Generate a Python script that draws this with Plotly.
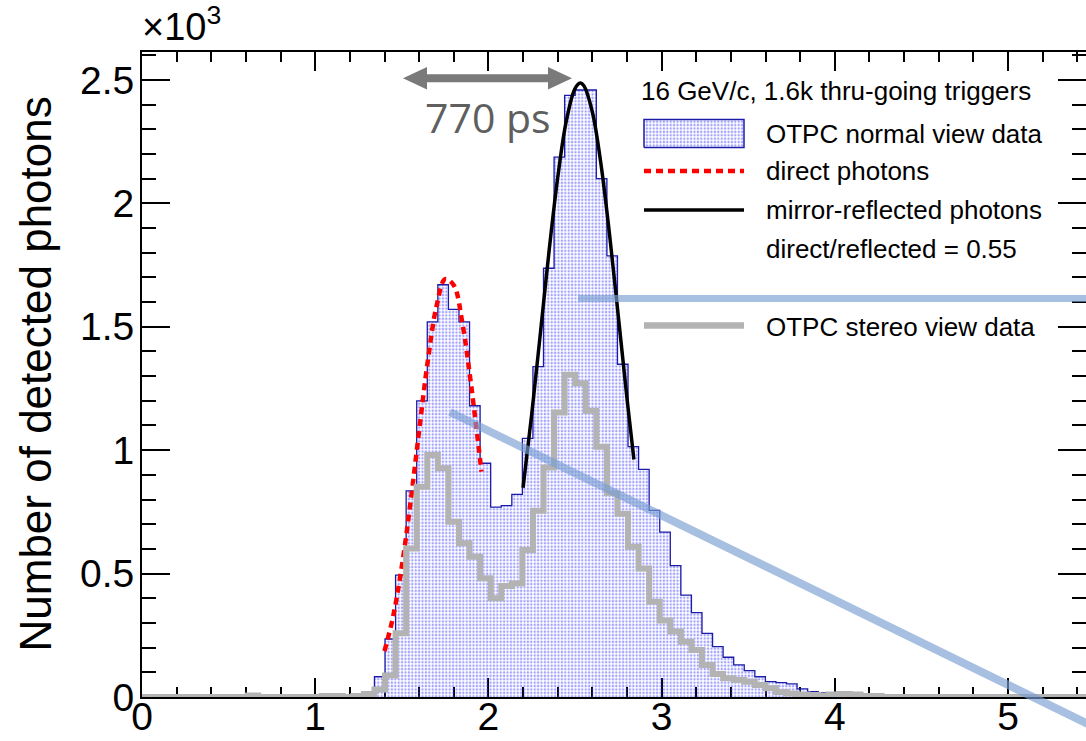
import plotly.graph_objects as go

# ---------------- data ----------------
bin_width = 0.061          # histogram bin width (x units)
n_bins = 90

normal_first_bin = 21
normal_view_counts = [0.016, 0.082, 0.235, 0.494, 0.835, 1.20, 1.52, 1.67, 1.57, 1.52,
                      1.18, 0.947, 0.769, 0.775, 0.821, 1.048, 1.338, 1.737, 2.187, 2.437,
                      2.459, 2.459, 2.10, 1.787, 1.348, 1.014, 0.922, 0.756, 0.668, 0.532,
                      0.413, 0.342, 0.258, 0.204, 0.161, 0.130, 0.107, 0.082, 0.062, 0.058,
                      0.053, 0.033, 0.022, 0.018, 0.010, 0.006, 0.004, 0.003]

stereo_view_counts = [0, 0, 0, 0, 0, 0, 0, 0, 0, 0,
                      0.006, 0, 0, 0, 0, 0, 0, 0.004, 0.004, 0,
                      0.004, 0.012, 0.03, 0.087, 0.258, 0.602, 0.852, 0.98, 0.927, 0.71,
                      0.623, 0.568, 0.481, 0.40, 0.45, 0.46, 0.596, 0.755, 0.93, 1.153,
                      1.305, 1.271, 1.16, 1.014, 0.825, 0.742, 0.609, 0.521, 0.386, 0.31,
                      0.265, 0.224, 0.19, 0.13, 0.093, 0.076, 0.069, 0.062, 0.049, 0.035,
                      0.02, 0.014, 0.01, 0.008, 0.006, 0.01, 0.012, 0.01, 0.004, 0.004,
                      0, 0, 0, 0, 0, 0, 0, 0, 0, 0,
                      0, 0, 0, 0, 0, 0, 0, 0, 0, 0]

direct_x = [1.40, 1.45, 1.50, 1.55, 1.60, 1.65, 1.70, 1.75, 1.80, 1.85, 1.90, 1.96]
direct_y = [0.186, 0.327, 0.529, 0.787, 1.079, 1.361, 1.582, 1.693, 1.668, 1.513, 1.264, 0.913]

reflected_x = [2.20, 2.25, 2.30, 2.35, 2.40, 2.45, 2.50, 2.53, 2.55, 2.60, 2.65, 2.70, 2.75, 2.80, 2.84]
reflected_y = [0.848, 1.146, 1.474, 1.806, 2.104, 2.335, 2.465, 2.487, 2.477, 2.370, 2.157,
               1.869, 1.542, 1.210, 0.962]

x_ticks = [0, 1, 2, 3, 4, 5]
y_ticks = [0, 0.5, 1, 1.5, 2, 2.5]

legend_header = "16 GeV/c, 1.6k thru-going triggers"
legend_labels = ["OTPC normal view data", "direct photons", "mirror-reflected photons",
                 "direct/reflected = 0.55", "OTPC stereo view data"]
arrow_label = "770 ps"
y_title = "Number of detected photons"

# ---------------- layout geometry ----------------
W, H = 1086, 741
ML, MR, MT, MB = 142, 0, 52, 44
X_RANGE = [0, 5.45]
Y_RANGE = [0, 2.613]
PW, PH = W - ML - MR, H - MT - MB


def px_to_paper(px, py):
    return (px - ML) / PW, (H - MB - py) / PH


def px_to_data(px, py):
    xp, yp = px_to_paper(px, py)
    return (X_RANGE[0] + xp * (X_RANGE[1] - X_RANGE[0]),
            Y_RANGE[0] + yp * (Y_RANGE[1] - Y_RANGE[0]))


# histogram step arrays
normal_full = [0.0] * n_bins
for i, v in enumerate(normal_view_counts):
    normal_full[normal_first_bin + i] = v
edges = [k * bin_width for k in range(n_bins + 1)]
normal_step = normal_full + [normal_full[-1]]
stereo_step = list(stereo_view_counts[:n_bins]) + [stereo_view_counts[n_bins - 1]]

NAVY = "#1c1ca8"
DOT_BLUE = "#4646ff"
GRAY = "#b3b3b3"
OVER = "rgba(120,157,207,0.65)"
PATTERN = dict(shape=".", fgcolor=DOT_BLUE, bgcolor="rgba(255,255,255,0)",
               size=3.4, solidity=0.4)

fig = go.Figure()

# OTPC normal view histogram (pattern fill + outline)
fig.add_trace(go.Scatter(
    x=edges, y=normal_step, mode="lines", line=dict(shape="hv", color=NAVY, width=1.3),
    fill="tozeroy", fillcolor="rgba(255,255,255,0)", fillpattern=PATTERN,
    name=legend_labels[0], hoverinfo="skip"))

# direct photons fit
fig.add_trace(go.Scatter(
    x=direct_x, y=direct_y, mode="lines",
    line=dict(color="#ff0000", width=4.5, dash="7px,5px", shape="spline"),
    name=legend_labels[1]))

# mirror-reflected fit
fig.add_trace(go.Scatter(
    x=reflected_x, y=reflected_y, mode="lines",
    line=dict(color="black", width=3.5, shape="spline"),
    name=legend_labels[2]))

# stereo view histogram
fig.add_trace(go.Scatter(
    x=edges, y=stereo_step, mode="lines", line=dict(shape="hv", color=GRAY, width=6),
    name=legend_labels[4], hoverinfo="skip"))

# ---------------- legend (drawn manually) ----------------
bx0, by0 = px_to_data(644, 147.5)
bx1, by1 = px_to_data(744, 119.5)
fig.add_trace(go.Scatter(
    x=[bx0, bx1, bx1, bx0, bx0], y=[by0, by0, by1, by1, by0], mode="lines",
    line=dict(color=NAVY, width=1.5), fill="toself", fillcolor="rgba(255,255,255,0)",
    fillpattern=PATTERN, showlegend=False, hoverinfo="skip"))


def legend_line(py, color, width, dash=None):
    xa, ya = px_to_data(644, py)
    xb, _ = px_to_data(744, py)
    fig.add_trace(go.Scatter(x=[xa, xb], y=[ya, ya], mode="lines",
                             line=dict(color=color, width=width, dash=dash),
                             showlegend=False, hoverinfo="skip"))


legend_line(171, "#ff0000", 4.5, "7px,5px")
legend_line(210, "black", 3.5)
legend_line(325.5, GRAY, 6.5)

annotations = []
hx, hy = px_to_paper(639, 91)
annotations.append(dict(x=hx, y=hy, xref="paper", yref="paper", text=legend_header,
                        showarrow=False, xanchor="left", yanchor="middle",
                        font=dict(size=26, color="black")))
for label, py in zip(legend_labels, [133.5, 171, 209.5, 248.5, 326.5]):
    lx, ly = px_to_paper(764, py)
    annotations.append(dict(x=lx, y=ly, xref="paper", yref="paper", text=label,
                            showarrow=False, xanchor="left", yanchor="middle",
                            font=dict(size=26, color="black")))

# x10^3 multiplier
mx, my = px_to_paper(140, 50)
annotations.append(dict(x=mx, y=my, xref="paper", yref="paper", text="×10<sup>3</sup>",
                        showarrow=False, xanchor="left", yanchor="bottom",
                        font=dict(size=38, color="black")))

# y-axis title
tx, ty = px_to_paper(35, 374.5)
annotations.append(dict(x=tx, y=ty, xref="paper", yref="paper", text=y_title,
                        showarrow=False, textangle=-90, xanchor="center", yanchor="middle",
                        font=dict(size=44, color="black")))

# 770 ps label
ax_, ay_ = px_to_paper(488, 117)
annotations.append(dict(x=ax_, y=ay_, xref="paper", yref="paper", text=arrow_label,
                        showarrow=False, xanchor="center", yanchor="middle",
                        font=dict(size=41, color="#5f5f5f", family="Open Sans")))

# ---------------- overlay shapes ----------------
shapes = []
# double arrow
arrow_px = [(403, 78.3), (427, 67), (427, 74.3), (548, 74.3), (548, 67), (572, 78.3),
            (548, 89.6), (548, 82.3), (427, 82.3), (427, 89.6)]
pts = [px_to_paper(px, py) for px, py in arrow_px]
path = "M " + " L ".join(f"{a:.5f},{b:.5f}" for a, b in pts) + " Z"
shapes.append(dict(type="path", xref="paper", yref="paper", path=path,
                   fillcolor="#7a7a7a", line=dict(width=0)))

# light-blue overlay lines
h0 = px_to_paper(578, 298.5)
h1 = px_to_paper(1090, 298.5)
shapes.append(dict(type="line", xref="paper", yref="paper", x0=h0[0], y0=h0[1],
                   x1=h1[0], y1=h1[1], line=dict(color=OVER, width=7)))
d0 = px_to_paper(450, 412)
d1 = px_to_paper(1110, 734.7)
shapes.append(dict(type="line", xref="paper", yref="paper", x0=d0[0], y0=d0[1],
                   x1=d1[0], y1=d1[1], line=dict(color=OVER, width=8)))

axis_common = dict(showgrid=False, zeroline=False, showline=True, linecolor="black",
                   linewidth=2, mirror="ticks", ticks="inside", tickwidth=2,
                   tickcolor="black", layer="below traces", automargin=False,
                   tickfont=dict(size=39, color="black", family="Liberation Sans, Arial"))

fig.update_layout(
    width=W, height=H, margin=dict(l=ML, r=MR, t=MT, b=MB, pad=0, autoexpand=False),
    paper_bgcolor="white", plot_bgcolor="white", showlegend=False,
    font=dict(family="Liberation Sans, Arial", color="black"),
    xaxis=dict(range=X_RANGE, tickvals=x_ticks, ticklen=19, ticklabelstandoff=-16,
               minor=dict(dtick=0.2, ticklen=10, tickwidth=2, ticks="inside", tickcolor="black"),
               **axis_common),
    yaxis=dict(range=Y_RANGE, tickvals=y_ticks, ticklen=28, ticklabelstandoff=-2,
               minor=dict(dtick=0.1, ticklen=14, tickwidth=2, ticks="inside", tickcolor="black"),
               **axis_common),
    annotations=annotations, shapes=shapes,
)

fig.write_html("out.html")
